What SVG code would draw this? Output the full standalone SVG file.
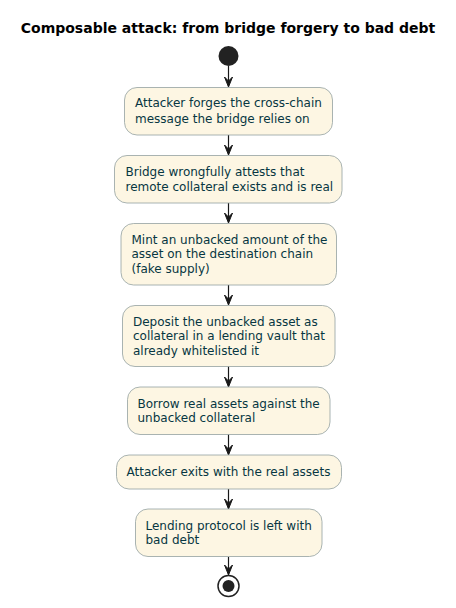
<svg xmlns="http://www.w3.org/2000/svg" width="456" height="608" viewBox="0 0 456 608">
<defs>
<style>
.box{fill:#FDF6E3;stroke:#93A1A1;stroke-width:0.8}
.t{font-family:"DejaVu Sans","Liberation Sans",sans-serif;font-size:12px;fill:#073642}
.title{font-family:"DejaVu Sans","Liberation Sans",sans-serif;font-size:14px;font-weight:bold;fill:#000}
.edge{stroke:#181818;stroke-width:1.2;fill:none}
.ah{fill:#181818;stroke:#181818;stroke-width:1}
</style>
</defs>
<rect width="456" height="608" fill="#FFFFFF"/>
<text class="title" x="228" y="33" text-anchor="middle">Composable attack: from bridge forgery to bad debt</text>

<g id="start"><circle cx="228.5" cy="56" r="10" fill="#222222"/></g>

<g id="connectors">
<line class="edge" x1="228.5" y1="66" x2="228.5" y2="86"/>
<polygon class="ah" points="224.5,77 228.5,87 232.5,77 228.5,81"/>
<line class="edge" x1="228.5" y1="135" x2="228.5" y2="154"/>
<polygon class="ah" points="224.5,145 228.5,155 232.5,145 228.5,149"/>
<line class="edge" x1="228.5" y1="203" x2="228.5" y2="222"/>
<polygon class="ah" points="224.5,213 228.5,223 232.5,213 228.5,217"/>
<line class="edge" x1="228.5" y1="285" x2="228.5" y2="304"/>
<polygon class="ah" points="224.5,295 228.5,305 232.5,295 228.5,299"/>
<line class="edge" x1="228.5" y1="366" x2="228.5" y2="386"/>
<polygon class="ah" points="224.5,377 228.5,387 232.5,377 228.5,381"/>
<line class="edge" x1="228.5" y1="434" x2="228.5" y2="454"/>
<polygon class="ah" points="224.5,445 228.5,455 232.5,445 228.5,449"/>
<line class="edge" x1="228.5" y1="489" x2="228.5" y2="508"/>
<polygon class="ah" points="224.5,499 228.5,509 232.5,499 228.5,503"/>
<line class="edge" x1="228.5" y1="557" x2="228.5" y2="574"/>
<polygon class="ah" points="224.5,565 228.5,575 232.5,565 228.5,569"/>
</g>

<g id="n1">
<rect class="box" x="124.5" y="87.5" width="208" height="47.5" rx="12.5"/>
<text class="t" x="135" y="107">Attacker forges the cross-chain</text>
<text class="t" x="135" y="123">message the bridge relies on</text>
</g>
<g id="n2">
<rect class="box" x="114.5" y="155.5" width="227.5" height="47.5" rx="12.5"/>
<text class="t" x="125.5" y="176">Bridge wrongfully attests that</text>
<text class="t" x="125.5" y="191">remote collateral exists and is real</text>
</g>
<g id="n3">
<rect class="box" x="121" y="223.5" width="215.5" height="61.5" rx="12.5"/>
<text class="t" x="131.5" y="244">Mint an unbacked amount of the</text>
<text class="t" x="131.5" y="258">asset on the destination chain</text>
<text class="t" x="131.5" y="273">(fake supply)</text>
</g>
<g id="n4">
<rect class="box" x="122.5" y="305.5" width="212.5" height="61" rx="12.5"/>
<text class="t" x="133" y="326">Deposit the unbacked asset as</text>
<text class="t" x="133" y="340">collateral in a lending vault that</text>
<text class="t" x="133" y="355">already whitelisted it</text>
</g>
<g id="n5">
<rect class="box" x="127.5" y="387" width="202.5" height="47.5" rx="12.5"/>
<text class="t" x="137.5" y="408">Borrow real assets against the</text>
<text class="t" x="137.5" y="422">unbacked collateral</text>
</g>
<g id="n6">
<rect class="box" x="116.5" y="455" width="225" height="34" rx="12.5"/>
<text class="t" x="126.5" y="476">Attacker exits with the real assets</text>
</g>
<g id="n7">
<rect class="box" x="135.5" y="509" width="186.5" height="47.5" rx="12.5"/>
<text class="t" x="145.5" y="530">Lending protocol is left with</text>
<text class="t" x="145.5" y="544">bad debt</text>
</g>

<g id="end">
<circle cx="228.5" cy="586" r="10.5" fill="none" stroke="#222222" stroke-width="1.5"/>
<circle cx="228.5" cy="586" r="6" fill="#222222"/>
</g>
</svg>
